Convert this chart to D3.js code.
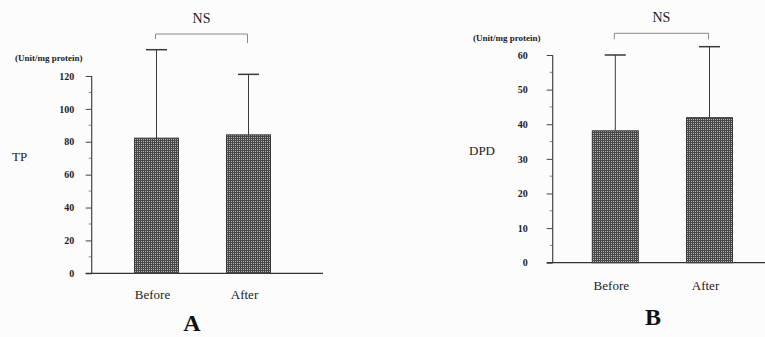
<!DOCTYPE html>
<html>
<head>
<meta charset="utf-8">
<script src="https://cdn.jsdelivr.net/npm/d3@7/dist/d3.min.js"></script>
<style>
  html, body { margin: 0; padding: 0; background: #fcfcfc; }
  svg { display: block; font-family: "Liberation Serif", "Times New Roman", serif; }
</style>
</head>
<body>
<svg id="fig" width="765" height="337"></svg>
<script>
// Enzyme activity before and after treatment (mean + SD)
const categories = ["Before", "After"];

const tpMeans = [82.2, 84.2];
const tpUpper = [136, 121];        // mean + SD
const tpTicks = [0, 20, 40, 60, 80, 100, 120];

const dpdMeans = [38.1, 41.9];
const dpdUpper = [60, 62.4];       // mean + SD
const dpdTicks = [0, 10, 20, 30, 40, 50, 60];

const svg = d3.select("#fig");

// dotted fill used for the bars: light dots on a dark grey ground
const defs = svg.append("defs");
const pat = defs.append("pattern")
  .attr("id", "stipple").attr("patternUnits", "userSpaceOnUse")
  .attr("width", 2).attr("height", 2);
pat.append("rect").attr("width", 2).attr("height", 2).attr("fill", "#474747");
pat.append("rect").attr("x", 1).attr("y", 1).attr("width", 1).attr("height", 1).attr("fill", "#b4b4b4");

function panel(cfg) {
  const g = svg.append("g");
  const y = d3.scaleLinear().domain(cfg.domain).range([cfg.y0, cfg.y1]);
  const x = d3.scalePoint().domain(categories).range(cfg.xCenters);

  // y axis: labelled major ticks plus unlabelled half-step ticks
  const axis = d3.axisLeft(y).tickValues(cfg.ticks).tickSize(6).tickPadding(cfg.pad)
    .tickFormat(d3.format("d"));
  const ag = g.append("g").attr("transform", `translate(${cfg.axisX},0)`).call(axis);
  ag.select(".domain").attr("stroke", "#444").attr("stroke-width", 1.2)
    .attr("d", `M0,${y(cfg.domain[0])}V${y(cfg.domain[1])}`);
  ag.selectAll(".tick line").attr("stroke", "#444");
  ag.selectAll(".tick text")
    .attr("font-family", "Liberation Serif, serif").attr("font-size", 10)
    .attr("font-weight", "bold").attr("fill", "#222");
  const step = cfg.ticks[1] - cfg.ticks[0];
  const minor = cfg.ticks.slice(0, -1).map(t => t + step / 2);
  g.append("g").selectAll("line").data(minor).join("line")
    .attr("x1", cfg.axisX - 3).attr("x2", cfg.axisX)
    .attr("y1", d => y(d)).attr("y2", d => y(d))
    .attr("stroke", "#666").attr("stroke-width", 0.8);

  // baseline
  g.append("line").attr("x1", cfg.axisX - 6).attr("x2", cfg.baseEnd)
    .attr("y1", y(0)).attr("y2", y(0)).attr("stroke", "#333").attr("stroke-width", 1.3);

  // error bars (upper whisker only)
  const eb = g.append("g").attr("stroke", "#3a3a3a").attr("stroke-width", 1);
  eb.selectAll(".whisker").data(categories).join("line")
    .attr("x1", d => x(d)).attr("x2", d => x(d))
    .attr("y1", (d, i) => y(cfg.means[i])).attr("y2", (d, i) => y(cfg.upper[i]));
  eb.selectAll(".cap").data(categories).join("line")
    .attr("x1", d => x(d) - 10.5).attr("x2", d => x(d) + 10.5)
    .attr("y1", (d, i) => y(cfg.upper[i])).attr("y2", (d, i) => y(cfg.upper[i]))
    .attr("stroke-width", 1.5);

  // bars
  g.append("g").selectAll("rect").data(categories).join("rect")
    .attr("x", d => x(d) - cfg.barW / 2).attr("width", cfg.barW)
    .attr("y", (d, i) => y(cfg.means[i]))
    .attr("height", (d, i) => y(0) - y(cfg.means[i]))
    .attr("fill", "url(#stipple)").attr("stroke", "#3a3a3a").attr("stroke-width", 1);

  // significance bracket
  const bx0 = x(categories[0]) - 1, bx1 = x(categories[1]) - 1;
  g.append("path")
    .attr("d", `M${bx0},${cfg.brY + cfg.drop[0]}V${cfg.brY}H${bx1}V${cfg.brY + cfg.drop[1]}`)
    .attr("fill", "none").attr("stroke", "#8a8a8a").attr("stroke-width", 1);
  g.append("text").attr("x", (bx0 + bx1) / 2).attr("y", cfg.brY - 11)
    .attr("text-anchor", "middle").attr("font-size", 14).attr("fill", "#222").text("NS");

  // unit and measure labels
  g.append("text").attr("x", cfg.unitX).attr("y", cfg.unitY)
    .attr("font-size", 9).attr("font-weight", "bold").attr("fill", "#222")
    .text("(Unit/mg protein)");
  g.append("text").attr("x", cfg.titleX).attr("y", cfg.titleY)
    .attr("font-size", 13).attr("fill", "#222").text(cfg.title);

  // category labels
  g.append("g").selectAll("text").data(categories).join("text")
    .attr("x", d => x(d) - 4).attr("y", cfg.catY)
    .attr("text-anchor", "middle").attr("font-size", 13).attr("fill", "#222")
    .text(d => d);

  // panel letter
  g.append("text").attr("x", cfg.letterX).attr("y", cfg.letterY)
    .attr("text-anchor", "middle").attr("font-size", 24).attr("font-weight", "bold")
    .attr("fill", "#111").text(cfg.letter);
}

panel({
  domain: [0, 120], ticks: tpTicks, means: tpMeans, upper: tpUpper,
  y0: 273.3, y1: 76, axisX: 91.7, pad: 11.5, baseEnd: 323,
  xCenters: [156.5, 248.5], barW: 44,
  brY: 34, drop: [5, 9],
  unitX: 15, unitY: 61, title: "TP", titleX: 12, titleY: 161,
  catY: 299, letter: "A", letterX: 192, letterY: 331
});

panel({
  domain: [0, 60], ticks: dpdTicks, means: dpdMeans, upper: dpdUpper,
  y0: 262.7, y1: 55, axisX: 552.7, pad: 19, baseEnd: 765,
  xCenters: [615.3, 709.5], barW: 46,
  brY: 33.3, drop: [6, 6],
  unitX: 473, unitY: 41, title: "DPD", titleX: 469, titleY: 155,
  catY: 290, letter: "B", letterX: 653, letterY: 325
});
</script>
</body>
</html>
